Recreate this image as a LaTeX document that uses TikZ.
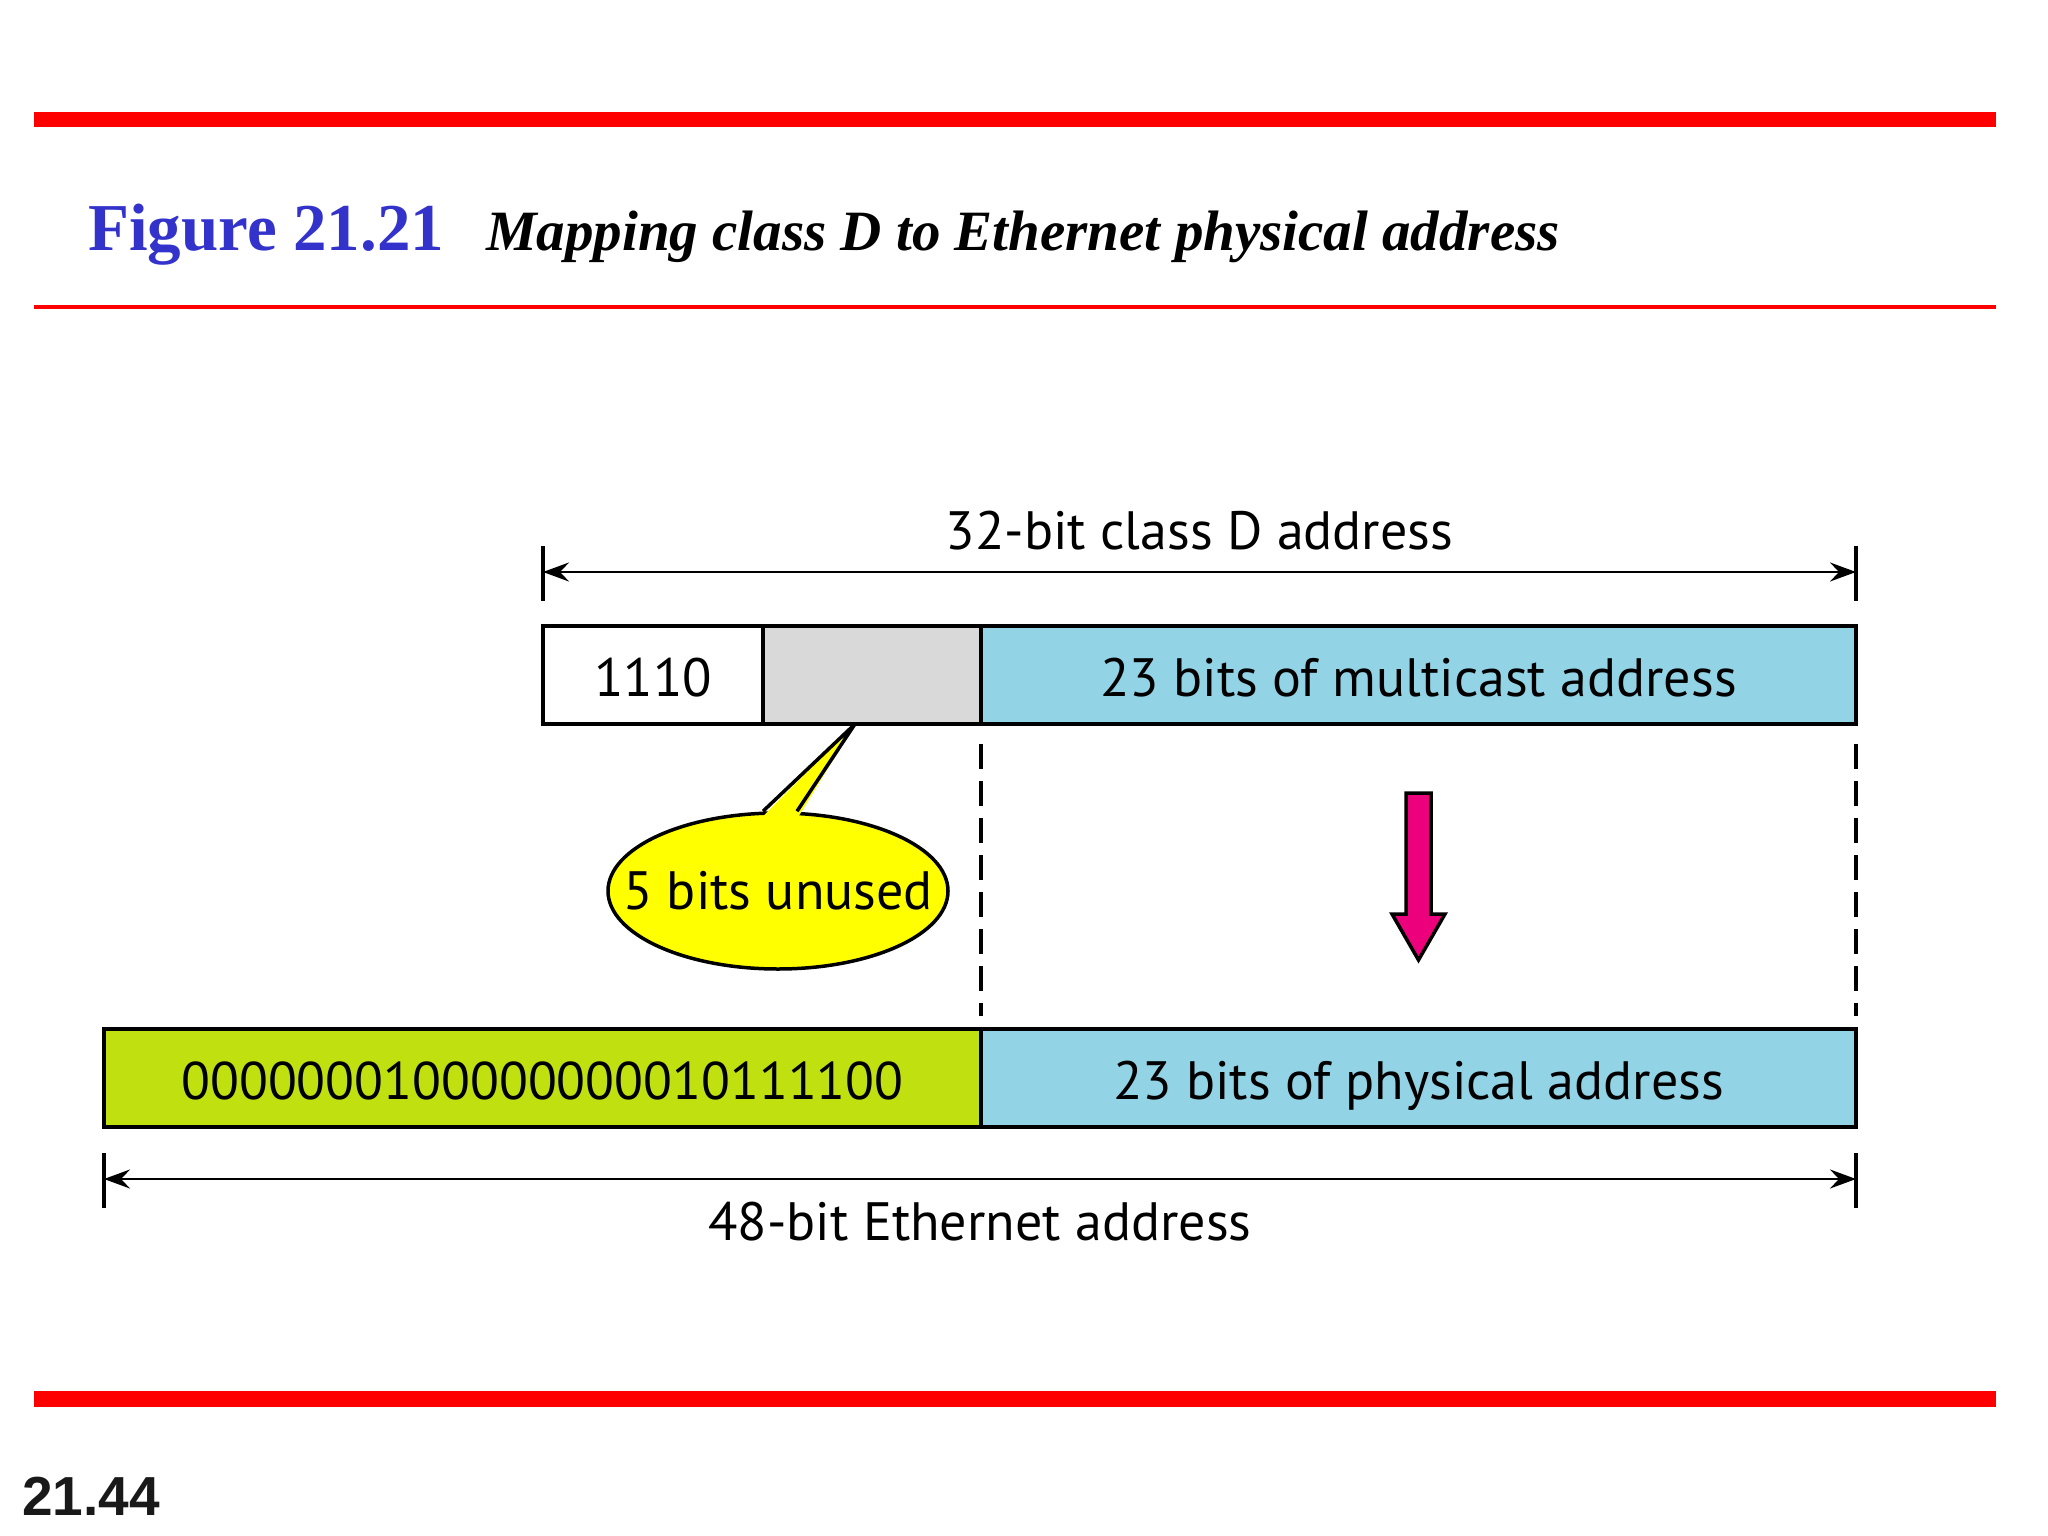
\documentclass[tikz,border=0pt]{standalone}
\usepackage{fontspec}
\usepackage{tikz}
\usetikzlibrary{arrows.meta,positioning,calc,shapes.geometric}
\newfontfamily\diagfont{PT Sans}
\newfontfamily\headfont{Liberation Serif}
\newfontfamily\pagefont{Liberation Sans}
\definecolor{slidered}{RGB}{255,0,0}
\definecolor{titleblue}{RGB}{51,51,204}
\definecolor{unusedgray}{RGB}{217,217,217}
\definecolor{addrblue}{RGB}{146,211,230}
\definecolor{prefixgreen}{RGB}{192,224,16}
\definecolor{bubbleyellow}{RGB}{255,255,0}
\definecolor{arrowpink}{RGB}{236,0,124}

\begin{document}
\begin{tikzpicture}[
  x=1pt, y=-1pt,
  font=\diagfont\fontsize{54}{65}\selectfont,
  field/.style={draw, line width=3.5pt, outer sep=0pt, inner sep=0pt, minimum height=98pt, text height=42pt, text depth=0pt},
  dim/.style={{Stealth[length=26pt,width=19pt,inset=9pt]}-{Stealth[length=26pt,width=19pt,inset=9pt]}, line width=2.8pt},
  tick/.style={line width=3.5pt},
  guide/.style={line width=4pt, dash pattern=on 25pt off 12pt},
  bubble/.style={ellipse, draw, fill=bubbleyellow, line width=3.5pt, minimum width=340pt, minimum height=156pt, inner sep=0pt},
  heading/.style={anchor=base west, inner sep=0pt}
]

\useasboundingbox (0,0) rectangle (2048,1536);

% slide frame
\fill[slidered] (34,112) rectangle (1996,127);
\fill[slidered] (34,305) rectangle (1996,309);
\fill[slidered] (34,1391) rectangle (1996,1407);

\node[heading, text=titleblue, font=\headfont\bfseries\fontsize{67}{80}\selectfont] (fignum) at (88,250) {Figure 21.21};
\node[heading, font=\headfont\bfseries\itshape\fontsize{57}{68}\selectfont] (figtitle) at (486,250) {Mapping class D to Ethernet physical address};
\node[heading, text=black!90, font=\pagefont\bfseries\fontsize{55}{66}\selectfont] (pagenum) at (22,1515) {21.44};

% class D address
\node[field, minimum width=220pt] (prefix) at (653,675) {1110};
\node[field, fill=unusedgray, minimum width=218pt, right=0pt of prefix] (unusedbits) {};
\node[field, fill=addrblue, minimum width=875pt, right=0pt of unusedbits] (mcast) {23 bits of multicast address};

% Ethernet address
\node[field, fill=prefixgreen, minimum width=877pt, font=\diagfont\fontsize{53}{64}\selectfont] (fixed) at (542.5,1078) {0000000100000000010111100};
\node[field, fill=addrblue, minimum width=875pt, right=0pt of fixed] (phys) {23 bits of physical address};

% dimension lines
\coordinate (dtopL) at ($(prefix.north west)+(0,-54)$);
\coordinate (dtopR) at ($(mcast.north east)+(0,-54)$);
\coordinate (dbotL) at ($(fixed.south west)+(0,52)$);
\coordinate (dbotR) at ($(phys.south east)+(0,52)$);
\draw[tick] ($(prefix.north west)+(0,-80)$) -- ($(prefix.north west)+(0,-25)$);
\draw[tick] ($(mcast.north east)+(0,-80)$) -- ($(mcast.north east)+(0,-25)$);
\draw[tick] ($(fixed.south west)+(0,26)$) -- ($(fixed.south west)+(0,81)$);
\draw[tick] ($(phys.south east)+(0,26)$) -- ($(phys.south east)+(0,81)$);
\draw[dim] (dtopL) -- (dtopR) node[midway, above=20pt, inner sep=0pt] (toplabel) {32-bit class D address};
\draw[dim] (dbotL) -- (dbotR) node[midway, below=22pt, inner sep=0pt] (botlabel) {48-bit Ethernet address};

% guides
\draw[guide] ($(mcast.south west)+(0,20)$) -- ($(phys.north west)+(0,-13)$);
\draw[guide] ($(mcast.south east)+(0,20)$) -- ($(phys.north east)+(0,-13)$);

% mapping arrow
\draw[line width=3.5pt, fill=arrowpink] ($(mcast.south)+(-12.5,69)$) -- ++(25,0) -- ++(0,121) -- ++(14,0)
  -- ($(mcast.south)+(0,236)$) -- ($(mcast.south)+(-26.5,190)$) -- ++(14,0) -- cycle;

% callout
\node[bubble] (unused) at (778,891) {\makebox[0pt]{5 bits unused}};
\coordinate (tip) at ($(unusedbits.south)+(-17,0)$);
\fill[bubbleyellow] ($(unused.north)+(-16,6)$) -- (tip) -- ($(unused.north)+(20,6)$) -- cycle;
\draw[line width=3.5pt, line join=round] ($(unused.north)+(-15,0)$) -- (tip) -- ($(unused.north)+(19,0)$);

\end{tikzpicture}
\end{document}
